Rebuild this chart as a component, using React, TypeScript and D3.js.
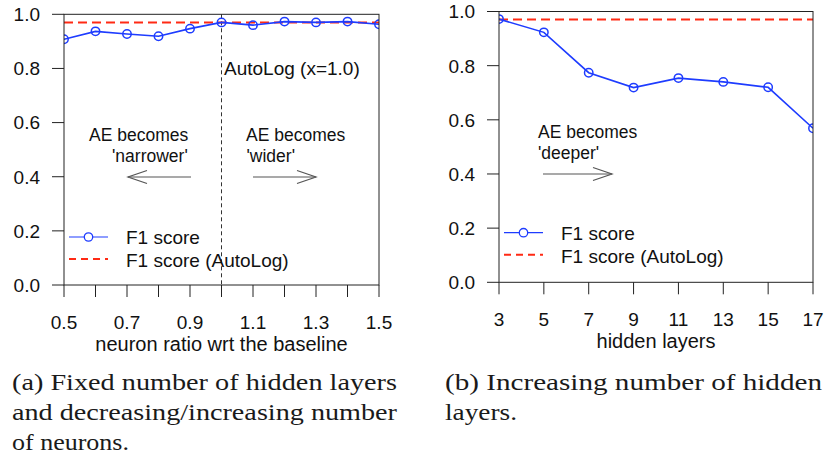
import React from "react";
import * as d3 from "d3";

const neuronRatios = [0.5, 0.6, 0.7, 0.8, 0.9, 1.0, 1.1, 1.2, 1.3, 1.4, 1.5];
const f1Neuron = [0.908, 0.937, 0.927, 0.919, 0.947, 0.970, 0.960, 0.973, 0.970, 0.973, 0.963];
const neuronTickLabels = [0.5, 0.7, 0.9, 1.1, 1.3, 1.5];

const hiddenLayers = [3, 5, 7, 9, 11, 13, 15, 17];
const f1Layers = [0.972, 0.923, 0.774, 0.719, 0.754, 0.740, 0.720, 0.569];

const autologF1 = 0.97;
const yTicks = [0.0, 0.2, 0.4, 0.6, 0.8, 1.0];

const legendLabels = ["F1 score", "F1 score (AutoLog)"];
const captionA = ["(a) Fixed number of hidden layers", "and decreasing/increasing number", "of neurons."];
const captionB = ["(b) Increasing number of hidden", "layers."];

const BLUE = "#1e3cff";
const RED = "#ff2a14";
const SANS = "'Liberation Sans', Arial, Helvetica, sans-serif";
const SERIF = "'Liberation Serif', 'DejaVu Serif', serif";
const FS = 19;
const AFS = 17.5;

type PanelProps = {
  id: string;
  xs: number[];
  ys: number[];
  xDomain: [number, number];
  xTicks: number[];
  xLabels: number[];
  labelFmt: (v: number) => string;
  left: number;
  right: number;
  top: number;
  bottom: number;
  xTitle: string;
  children?: React.ReactNode;
  legendX: number;
  legendY: number;
};

function Arrow({ x1, x2, y }: { x1: number; x2: number; y: number }) {
  const dir = x2 > x1 ? 1 : -1;
  return (
    <g stroke="#555" strokeWidth={1.2} fill="none">
      <line x1={x1} y1={y} x2={x2} y2={y} />
      <polyline points={`${x2 - dir * 19},${y - 6.5} ${x2},${y} ${x2 - dir * 19},${y + 6.5}`} />
    </g>
  );
}

function TwoLine({ x1, x2, y, l1, l2 }: { x1: number; x2: number; y: number; l1: string; l2: string }) {
  return (
    <g fontFamily={SANS} fontSize={AFS} fill="#111">
      <text x={x1} y={y}>{l1}</text>
      <text x={x2} y={y + 20.5}>{l2}</text>
    </g>
  );
}

function Panel(p: PanelProps) {
  const x = d3.scaleLinear().domain(p.xDomain).range([p.left, p.right]);
  const y = d3.scaleLinear().domain([0, 1]).range([p.bottom, p.top]);
  const line = d3
    .line<number>()
    .x((_, i) => x(p.xs[i]))
    .y((d) => y(d));
  const clipId = `clip-${p.id}`;
  return (
    <g>
      <defs>
        <clipPath id={clipId}>
          <rect x={p.left} y={p.top} width={p.right - p.left} height={p.bottom - p.top} />
        </clipPath>
      </defs>
      {p.children}
      <g clipPath={`url(#${clipId})`}>
        <line
          x1={p.left}
          x2={p.right}
          y1={y(autologF1)}
          y2={y(autologF1)}
          stroke={RED}
          strokeWidth={2}
          strokeDasharray="9,5"
        />
        <path d={line(p.ys) || ""} fill="none" stroke={BLUE} strokeWidth={1.6} />
        {p.ys.map((v, i) => (
          <circle key={i} cx={x(p.xs[i])} cy={y(v)} r={4.2} fill="none" stroke={BLUE} strokeWidth={1.5} />
        ))}
      </g>
      <rect
        x={p.left}
        y={p.top}
        width={p.right - p.left}
        height={p.bottom - p.top}
        fill="none"
        stroke="#222"
        strokeWidth={1}
      />
      {yTicks.map((t) => (
        <g key={t}>
          <line x1={p.left - 12} x2={p.left} y1={y(t)} y2={y(t)} stroke="#222" strokeWidth={1} />
          <text
            x={p.left - 24}
            y={y(t)}
            dy="0.36em"
            textAnchor="end"
            fontFamily={SANS}
            fontSize={FS}
            fill="#111"
          >
            {t.toFixed(1)}
          </text>
        </g>
      ))}
      {p.xTicks.map((t) => (
        <line key={t} x1={x(t)} x2={x(t)} y1={p.bottom} y2={p.bottom + 12} stroke="#222" strokeWidth={1} />
      ))}
      {p.xLabels.map((t) => (
        <text
          key={t}
          x={x(t)}
          y={p.bottom + 44}
          textAnchor="middle"
          fontFamily={SANS}
          fontSize={FS}
          fill="#111"
        >
          {p.labelFmt(t)}
        </text>
      ))}
      <text
        x={(p.left + p.right) / 2}
        y={p.bottom + 66}
        textAnchor="middle"
        fontFamily={SANS}
        fontSize={20}
        fill="#111"
      >
        {p.xTitle}
      </text>
      <g>
        <line
          x1={p.legendX}
          x2={p.legendX + 39}
          y1={p.legendY}
          y2={p.legendY}
          stroke={BLUE}
          strokeWidth={1.2}
        />
        <circle cx={p.legendX + 19.5} cy={p.legendY} r={4.2} fill="white" stroke={BLUE} strokeWidth={1.3} />
        <text x={p.legendX + 57} y={p.legendY + 7} fontFamily={SANS} fontSize={FS} fill="#111">
          {legendLabels[0]}
        </text>
        <line
          x1={p.legendX}
          x2={p.legendX + 39}
          y1={p.legendY + 22}
          y2={p.legendY + 22}
          stroke={RED}
          strokeWidth={2}
          strokeDasharray="7,5"
        />
        <text x={p.legendX + 57} y={p.legendY + 30} fontFamily={SANS} fontSize={FS} fill="#111">
          {legendLabels[1]}
        </text>
      </g>
    </g>
  );
}

export default function App() {
  const leftX = d3.scaleLinear().domain([0.5, 1.5]).range([64, 379]);
  const leftY = d3.scaleLinear().domain([0, 1]).range([285, 14.3]);
  return (
    <svg
      width={827}
      height={459}
      style={{ position: "absolute", left: 0, top: 0, display: "block", background: "white" }}
    >
      <Panel
        id="a"
        xs={neuronRatios}
        ys={f1Neuron}
        xDomain={[0.5, 1.5]}
        xTicks={neuronRatios}
        xLabels={neuronTickLabels}
        labelFmt={(v) => v.toFixed(1)}
        left={64}
        right={379}
        top={14.3}
        bottom={285}
        xTitle="neuron ratio wrt the baseline"
        legendX={69}
        legendY={237}
      >
        <line
          x1={leftX(1.0)}
          x2={leftX(1.0)}
          y1={leftY(1)}
          y2={leftY(0)}
          stroke="#333"
          strokeWidth={1}
          strokeDasharray="4,3"
        />
        <text x={224} y={75} fontFamily={SANS} fontSize={FS} fill="#111">
          AutoLog (x=1.0)
        </text>
        <TwoLine x1={89} x2={112} y={141} l1="AE becomes" l2="'narrower'" />
        <TwoLine x1={246} x2={246.5} y={141} l1="AE becomes" l2="'wider'" />
        <Arrow x1={191} x2={128} y={177} />
        <Arrow x1={253} x2={316} y={177} />
      </Panel>
      <Panel
        id="b"
        xs={hiddenLayers}
        ys={f1Layers}
        xDomain={[3, 17]}
        xTicks={hiddenLayers}
        xLabels={hiddenLayers}
        labelFmt={(v) => String(v)}
        left={499}
        right={813}
        top={11.5}
        bottom={282.3}
        xTitle="hidden layers"
        legendX={504}
        legendY={232.7}
      >
        <TwoLine x1={538} x2={538} y={138} l1="AE becomes" l2="'deeper'" />
        <Arrow x1={543} x2={612} y={174} />
      </Panel>
      {captionA.map((t, i) => (
        <text
          key={t}
          x={12}
          y={390 + i * 30}
          fontFamily={SERIF}
          fontSize={23}
          fill="#1a1a1a"
          textLength={i < 2 ? 385 : 117}
          lengthAdjust="spacingAndGlyphs"
        >
          {t}
        </text>
      ))}
      {captionB.map((t, i) => (
        <text
          key={t}
          x={445}
          y={390 + i * 30}
          fontFamily={SERIF}
          fontSize={23}
          fill="#1a1a1a"
          textLength={i < 1 ? 377 : 72}
          lengthAdjust="spacingAndGlyphs"
        >
          {t}
        </text>
      ))}
    </svg>
  );
}
